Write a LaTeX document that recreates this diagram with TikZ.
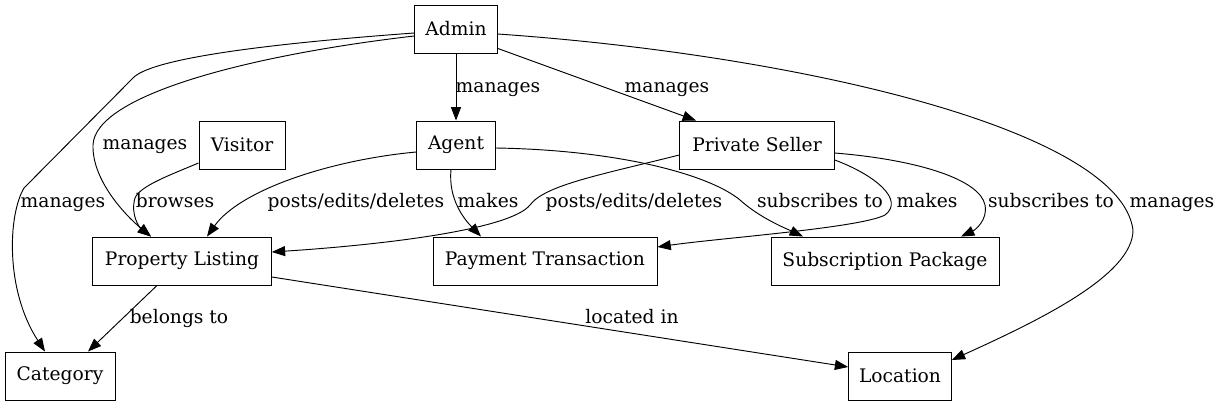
\documentclass[tikz,border=0pt]{standalone}
\usepackage{fontspec}
\setmainfont{DejaVu Serif}
\usetikzlibrary{arrows.meta,calc}
\begin{document}
\begin{tikzpicture}[x=0.75pt,y=-0.75pt,
  box/.style={draw, line width=0.7pt, minimum height=36pt, inner sep=0pt, font=\fontsize{14}{16}\selectfont},
  edge/.style={line width=0.7pt, -{Triangle[length=10pt,width=7.5pt]}},
  lbl/.style={font=\fontsize{14}{16}\selectfont, inner sep=0pt, anchor=base}]
\fill[white] (0,0) rectangle (1217,407);
\useasboundingbox (0,0) rectangle (1217,407);
% nodes
\node[box, minimum width=62pt]  (admin)    at (456,29)  {Admin};
\node[box, minimum width=64.5pt] (visitor) at (242,145) {Visitor};
\node[box, minimum width=59pt]  (agent)    at (456,145) {Agent};
\node[box, minimum width=116pt] (seller)   at (757,145) {Private Seller};
\node[box, minimum width=134pt] (listing)  at (182,261) {Property Listing};
\node[box, minimum width=168pt] (payment)  at (545,261) {Payment Transaction};
\node[box, minimum width=171pt] (package)  at (885,261) {Subscription Package};
\node[box, minimum width=82.5pt] (category) at (60,376) {Category};
\node[box, minimum width=77pt]  (location) at (900,376) {Location};
% edges
\draw[edge] (admin.south) -- (agent.north);
\draw[edge] ($(admin.south east)+(0,-5)$) -- ($(seller.north)+(-61,0)$);
\draw[edge] ($(admin.west)+(0,4)$) .. controls (250,45) and (150,60) .. (133,78)
  -- (24,188) .. controls (8,215) and (5,290) .. ($(category.north)+(-15,0)$);
\draw[edge] ($(admin.west)+(0,7)$) .. controls (250,55) and (95,95) .. (93,145)
  .. controls (92,180) and (125,215) .. ($(listing.north)+(-31,0)$);
\draw[edge] ($(admin.east)+(0,5)$) .. controls (800,55) and (1120,130) .. (1133,230)
  .. controls (1133,275) and (1040,320) .. ($(location.east)+(0,-16)$);
\draw[edge] ($(visitor.west)+(0,18)$) .. controls (170,175) and (140,186) .. (135,198)
  .. controls (130,215) and (140,228) .. ($(listing.north)+(-31,0)$);
\draw[edge] ($(agent.west)+(0,7)$) .. controls (330,160) and (240,190) .. ($(listing.north)+(25,0)$);
\draw[edge] ($(agent.south)+(-5,0)$) .. controls (448,200) and (465,220) .. ($(payment.north)+(-64,0)$);
\draw[edge] ($(agent.east)+(0,3)$) .. controls (620,150) and (710,175) .. (740,200)
  .. controls (760,218) and (785,228) .. ($(package.north)+(-82,0)$);
\draw[edge] ($(seller.west)+(0,10)$) .. controls (600,175) and (545,185) .. (530,205)
  .. controls (510,230) and (380,245) .. ($(listing.east)+(0,-9)$);
\draw[edge] ($(seller.east)+(0,15)$) .. controls (875,175) and (905,200) .. (885,215)
  .. controls (860,228) and (720,238) .. ($(payment.east)+(0,-14)$);
\draw[edge] ($(seller.east)+(0,8)$) .. controls (920,160) and (980,180) .. (985,205)
  .. controls (988,220) and (975,230) .. ($(package.north)+(76,0)$);
\draw[edge] ($(listing.south)+(-25,0)$) -- ($(category.north)+(28,0)$);
\draw[edge] ($(listing.east)+(0,16)$) -- ($(location.west)+(0,-9)$);
% labels
\node[lbl] (l1)  at (498,92)  {manages};
\node[lbl] (l2)  at (667,92)  {manages};
\node[lbl] (l3)  at (63,207)  {manages};
\node[lbl] (l4)  at (145,149) {manages};
\node[lbl] (l5)  at (1172,207) {manages};
\node[lbl] (l6)  at (175,207) {browses};
\node[lbl] (l7)  at (356,207) {posts/edits/deletes};
\node[lbl] (l8)  at (488,207) {makes};
\node[lbl] (l9)  at (820,207) {subscribes to};
\node[lbl] (l10) at (634,207) {posts/edits/deletes};
\node[lbl] (l11) at (927,207) {makes};
\node[lbl] (l12) at (1051,207) {subscribes to};
\node[lbl] (l13) at (179,323) {belongs to};
\node[lbl] (l14) at (632,323) {located in};
\end{tikzpicture}
\end{document}
